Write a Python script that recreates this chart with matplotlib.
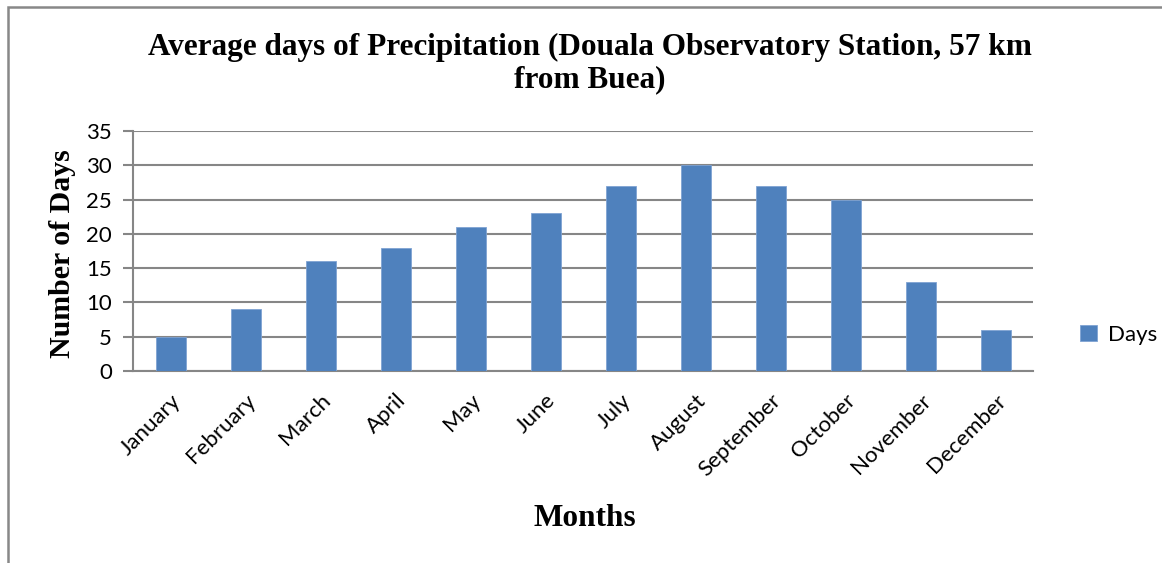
import matplotlib
matplotlib.use("Agg")
import matplotlib.pyplot as plt
from matplotlib.patches import Rectangle

months = ["January", "February", "March", "April", "May", "June", "July",
          "August", "September", "October", "November", "December"]
days = [5, 9, 16, 18, 21, 23, 27, 30, 27, 25, 13, 6]
yticks = [0, 5, 10, 15, 20, 25, 30, 35]

W, H = 1162, 563
fig = plt.figure(figsize=(W / 100, H / 100), dpi=100)
ax = fig.add_axes([133 / W, 1 - 371 / H, 900 / W, 240 / H])

bar_color = "#4F81BD"
grid_color = "#868686"
x = list(range(len(months)))
ax.bar(x, days, width=0.4, color=bar_color, edgecolor="#7FA3D3", linewidth=0.6,
       label="Days", zorder=3)
ax.set_xlim(-0.5, len(months) - 0.5)
ax.set_ylim(0, 35)
ax.set_yticks(yticks)
ax.yaxis.grid(True, color=grid_color, linewidth=1.5, zorder=0)
ax.set_axisbelow(True)
for s in ["top", "right"]:
    ax.spines[s].set_visible(False)
ax.spines["left"].set_color(grid_color)
ax.spines["left"].set_linewidth(1.5)
ax.spines["bottom"].set_color(grid_color)
ax.spines["bottom"].set_linewidth(1.5)
ax.tick_params(axis="y", length=7, width=1.5, color=grid_color, pad=8)
ax.tick_params(axis="x", length=0, pad=14)

tick_font = "Lato"
ax.set_xticks(x)
ax.set_xticklabels(months, rotation=45, ha="right", rotation_mode="anchor",
                   fontsize=16, family=tick_font)
for lbl in ax.get_yticklabels():
    lbl.set_fontsize(16)
    lbl.set_family(tick_font)

serif = "Liberation Serif"
fig.text(590 / W, 1 - 64 / H,
         "Average days of Precipitation (Douala Observatory Station, 57 km\nfrom Buea)",
         ha="center", va="center", fontsize=22.5, fontweight="bold", family=serif,
         linespacing=1.15)
fig.text(62 / W, 1 - 254 / H, "Number of Days", rotation=90, ha="center", va="center",
         fontsize=21.5, fontweight="bold", family=serif)
fig.text(585 / W, 1 - 518 / H, "Months", ha="center", va="center",
         fontsize=22.5, fontweight="bold", family=serif)

leg = ax.legend(loc="center left", bbox_to_anchor=(1.03, 0.5 - (335 - 251) / 240),
                frameon=False, prop={"family": tick_font, "size": 16},
                handlelength=0.75, handleheight=0.75, handletextpad=0.5)

fig.patches.append(Rectangle((8 / W, -0.1), 1.2, 1 - 7 / H + 0.1,
                             transform=fig.transFigure, fill=False,
                             edgecolor="#888888", linewidth=1.8))

fig.savefig("out.png", dpi=100)
